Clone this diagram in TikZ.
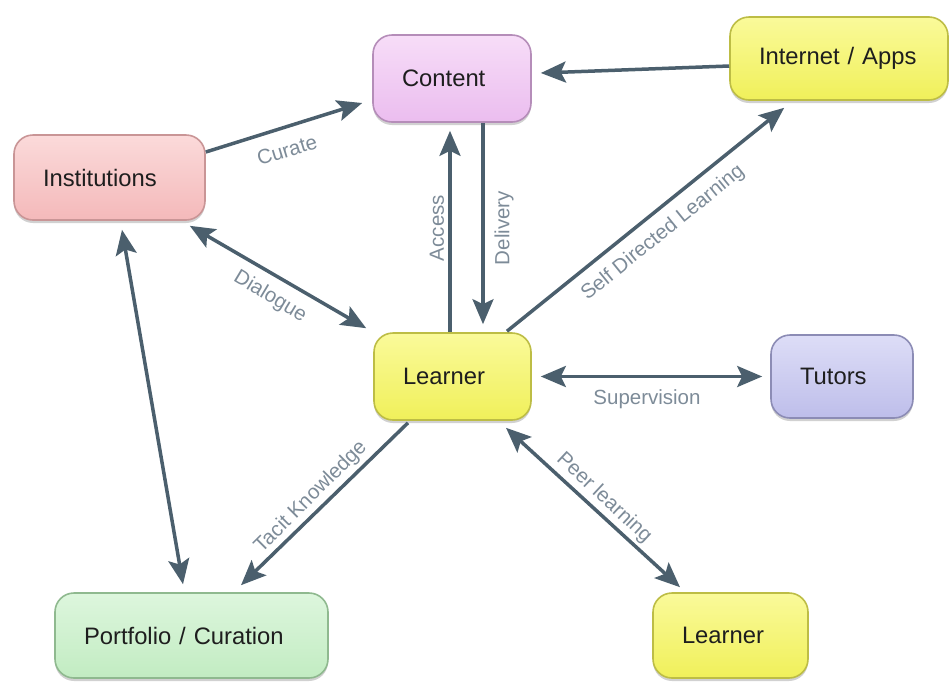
\documentclass[tikz,border=0pt]{standalone}
\usepackage{fontspec}
\setmainfont{Liberation Sans}
\usetikzlibrary{arrows.meta,shadows,calc}
\definecolor{arrowc}{HTML}{4B5F6D}
\definecolor{labelc}{HTML}{7D8B98}
\definecolor{textc}{HTML}{1E1E1E}
\definecolor{pinkF}{HTML}{F4B9BA}\definecolor{pinkL}{HTML}{FBDADA}\definecolor{pinkD}{HTML}{C99596}
\definecolor{purF}{HTML}{EBBDEF}\definecolor{purL}{HTML}{F7DDF8}\definecolor{purD}{HTML}{B58DB9}
\definecolor{yelF}{HTML}{F0F05A}\definecolor{yelL}{HTML}{FAFA9A}\definecolor{yelD}{HTML}{BDBD45}
\definecolor{bluF}{HTML}{BEBEEA}\definecolor{bluL}{HTML}{DDDDF7}\definecolor{bluD}{HTML}{8C8CB5}
\definecolor{grnF}{HTML}{C2ECC2}\definecolor{grnL}{HTML}{DDF6DD}\definecolor{grnD}{HTML}{8FB98F}
\begin{document}
\begin{tikzpicture}[x=1pt,y=-1pt,
  box/.style={rectangle, rounded corners=19pt, line width=1.6pt, inner xsep=29pt, inner ysep=0pt,
    align=left, text=textc, font=\fontsize{23.8}{28}\selectfont,
    drop shadow={shadow xshift=0pt, shadow yshift=-3pt, opacity=0.3, fill=black!60}},
  pinkbox/.style={box, draw=pinkD, top color=pinkL, bottom color=pinkF},
  purbox/.style={box, draw=purD, top color=purL, bottom color=purF},
  yelbox/.style={box, draw=yelD, top color=yelL, bottom color=yelF},
  blubox/.style={box, draw=bluD, top color=bluL, bottom color=bluF},
  grnbox/.style={box, draw=grnD, top color=grnL, bottom color=grnF},
  conn/.style={draw=arrowc, line width=3.5pt, >={Stealth[length=25pt,width=21pt,inset=5pt]}},
  lbl/.style={text=labelc, font=\fontsize{20.5}{24}\selectfont, inner sep=0pt}
]
\useasboundingbox (0,0) rectangle (951,681);

% nodes
\node[purbox, text width=100pt, minimum height=87pt] (content) at (452,78.5) {Content};
\node[yelbox, text width=160pt, minimum height=83pt] (inet) at (839,58.5) {Internet / Apps};
\node[pinkbox, text width=133pt, minimum height=85pt] (inst) at (109.5,177.5) {Institutions};
\node[yelbox, text width=99pt, minimum height=87pt] (learner) at (452.5,376.5) {Learner};
\node[blubox, text width=84pt, minimum height=83pt] (tutors) at (842,376.5) {Tutors};
\node[grnbox, text width=215pt, minimum height=85pt] (port) at (191.5,635.5) {Portfolio / Curation};
\node[yelbox, text width=97pt, minimum height=85pt] (learner2) at (730.5,635.5) {Learner};

% connectors
\draw[conn, ->] ($(inst.east)+(0,-25.5)$) -- ($(content.west)+(-10,24.5)$);
\draw[conn, ->] ($(inet.west)+(0,7.5)$) -- ($(content.east)+(9,-5.5)$);
\draw[conn, ->] ($(content.south)+(31,0)$) -- ($(learner.north)+(30.5,-8)$);
\draw[conn, ->] ($(learner.north)+(-2.5,0)$) -- ($(content.south)+(-2,8)$);
\draw[conn, <->] ($(inst.south east)+(-16,5)$) -- ($(learner.north west)+(-7,-4)$);
\draw[conn, ->] ($(learner.north)+(54.5,-1)$) -- ($(inet.south west)+(55,7)$);
\draw[conn, <->] ($(learner.east)+(9,0)$) -- ($(tutors.west)+(-8,0)$);
\draw[conn, ->] ($(learner.south)+(-44.5,2)$) -- ($(port.north)+(49.5,-7)$);
\draw[conn, <->] ($(learner.south)+(53.5,7)$) -- ($(learner2.north)+(-50.5,-5)$);
\draw[conn, <->] ($(inst.south)+(12.5,9)$) -- ($(port.north)+(-8.5,-8)$);

% labels
\node[lbl, rotate=17] (lcur) at (287,150) {Curate};
\node[lbl, rotate=-31] (ldia) at (270,297) {Dialogue};
\node[lbl, rotate=90] (lacc) at (437,228) {Access};
\node[lbl, rotate=90] (ldel) at (504,228) {Delivery};
\node[lbl, rotate=39] (lsdl) at (663,233) {Self Directed Learning};
\node[lbl] (lsup) at (647,399) {Supervision};
\node[lbl, rotate=45] (ltac) at (311,497) {Tacit Knowledge};
\node[lbl, rotate=-43] (lpeer) at (604,498) {Peer learning};
\end{tikzpicture}
\end{document}
